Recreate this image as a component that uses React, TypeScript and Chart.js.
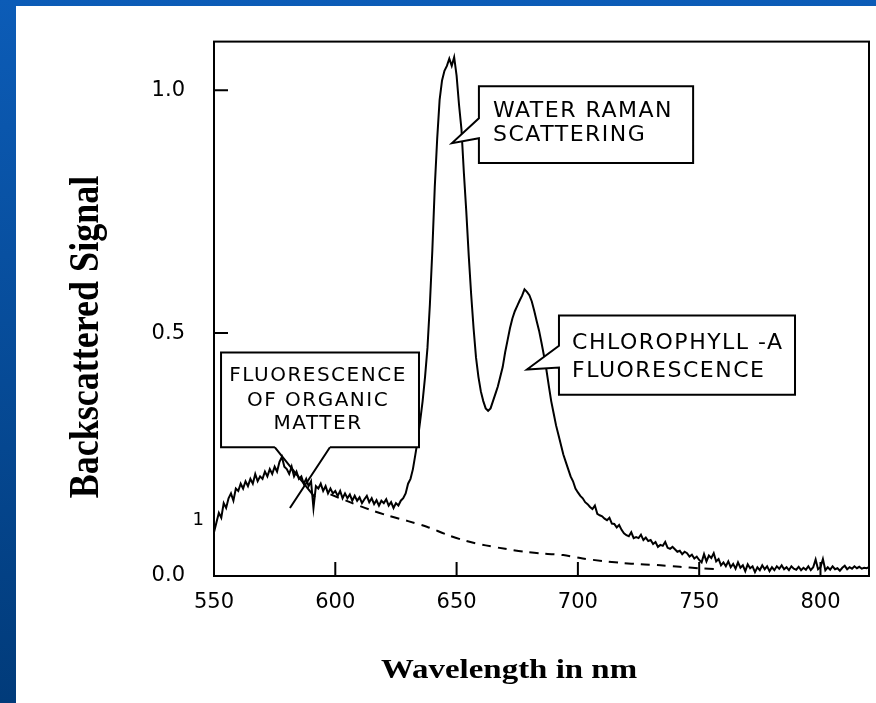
import React, { useEffect, useRef } from "react";
import { Chart, registerables } from "chart.js";

Chart.register(...registerables);

// ---- data ----
const wavelengths = [
  550, 551, 552, 553, 554, 555, 556, 557, 558, 559,
  560, 561, 562, 563, 564, 565, 566, 567, 568, 569,
  570, 571, 572, 573, 574, 575, 576, 577, 578, 579,
  580, 581, 582, 583, 584, 585, 586, 587, 588, 589,
  590, 591, 592, 593, 594, 595, 596, 597, 598, 599,
  600, 601, 602, 603, 604, 605, 606, 607, 608, 609,
  610, 611, 612, 613, 614, 615, 616, 617, 618, 619,
  620, 621, 622, 623, 624, 625, 626, 627, 628, 629,
  630, 631, 632, 633, 634, 635, 636, 637, 638, 639,
  640, 641, 642, 643, 644, 645, 646, 647, 648, 649,
  650, 651, 652, 653, 654, 655, 656, 657, 658, 659,
  660, 661, 662, 663, 664, 665, 666, 667, 668, 669,
  670, 671, 672, 673, 674, 675, 676, 677, 678, 679,
  680, 681, 682, 683, 684, 685, 686, 687, 688, 689,
  690, 691, 692, 693, 694, 695, 696, 697, 698, 699,
  700, 701, 702, 703, 704, 705, 706, 707, 708, 709,
  710, 711, 712, 713, 714, 715, 716, 717, 718, 719,
  720, 721, 722, 723, 724, 725, 726, 727, 728, 729,
  730, 731, 732, 733, 734, 735, 736, 737, 738, 739,
  740, 741, 742, 743, 744, 745, 746, 747, 748, 749,
  750, 751, 752, 753, 754, 755, 756, 757, 758, 759,
  760, 761, 762, 763, 764, 765, 766, 767, 768, 769,
  770, 771, 772, 773, 774, 775, 776, 777, 778, 779,
  780, 781, 782, 783, 784, 785, 786, 787, 788, 789,
  790, 791, 792, 793, 794, 795, 796, 797, 798, 799,
  800, 801, 802, 803, 804, 805, 806, 807, 808, 809,
  810, 811, 812, 813, 814, 815, 816, 817, 818, 819,
  820,
];

const backscatteredSignal = [
  0.09, 0.11, 0.13, 0.12, 0.15, 0.14, 0.16, 0.17, 0.155, 0.18,
  0.175, 0.19, 0.18, 0.195, 0.185, 0.2, 0.19, 0.21, 0.195, 0.205,
  0.2, 0.215, 0.205, 0.22, 0.21, 0.225, 0.215, 0.235, 0.245, 0.225,
  0.22, 0.21, 0.225, 0.205, 0.215, 0.2, 0.205, 0.19, 0.2, 0.185,
  0.195, 0.14, 0.185, 0.18, 0.19, 0.175, 0.185, 0.17, 0.18, 0.17,
  0.175, 0.165, 0.175, 0.16, 0.17, 0.16, 0.168, 0.155, 0.165, 0.155,
  0.162, 0.15, 0.158, 0.165, 0.152, 0.16, 0.148, 0.156, 0.145, 0.155,
  0.15, 0.158, 0.145, 0.152, 0.14, 0.15, 0.145, 0.155, 0.16, 0.17,
  0.19, 0.2, 0.22, 0.25, 0.28, 0.32, 0.36, 0.41, 0.47, 0.56,
  0.67, 0.8, 0.9, 0.98, 1.02, 1.04, 1.05, 1.065, 1.05, 1.068,
  1.03, 0.97, 0.92, 0.83, 0.75, 0.66, 0.58, 0.51, 0.45, 0.41,
  0.38, 0.36, 0.345, 0.34, 0.345, 0.36, 0.375, 0.39, 0.41, 0.43,
  0.46, 0.485, 0.51, 0.53, 0.545, 0.556, 0.567, 0.577, 0.59, 0.585,
  0.578, 0.565, 0.546, 0.525, 0.505, 0.48, 0.454, 0.425, 0.392, 0.36,
  0.335, 0.31, 0.29, 0.27, 0.25, 0.235, 0.22, 0.205, 0.195, 0.18,
  0.172, 0.165, 0.16, 0.152, 0.148, 0.142, 0.138, 0.145, 0.128, 0.125,
  0.123, 0.118, 0.115, 0.12, 0.108, 0.107, 0.1, 0.105, 0.095, 0.088,
  0.084, 0.082, 0.09, 0.078, 0.08, 0.078, 0.085, 0.074, 0.079, 0.072,
  0.074, 0.066, 0.07, 0.06, 0.064, 0.062, 0.07, 0.058, 0.056, 0.06,
  0.055, 0.05, 0.052, 0.045, 0.05, 0.047, 0.04, 0.044, 0.036, 0.04,
  0.033, 0.028, 0.045, 0.03, 0.042, 0.037, 0.047, 0.03, 0.035, 0.022,
  0.028, 0.02, 0.03, 0.018, 0.025, 0.015, 0.028, 0.017, 0.022, 0.01,
  0.024, 0.016, 0.02, 0.008, 0.018, 0.012, 0.022, 0.014, 0.02, 0.01,
  0.018, 0.012, 0.02, 0.015, 0.022, 0.014, 0.018, 0.012, 0.02, 0.015,
  0.013, 0.019, 0.012, 0.017, 0.013, 0.02, 0.012, 0.018, 0.034, 0.014,
  0.018, 0.035, 0.012, 0.018, 0.013, 0.02, 0.014, 0.016, 0.011, 0.017,
  0.021, 0.014, 0.018, 0.015, 0.02, 0.016, 0.019, 0.015, 0.017, 0.016,
  0.018,
];

const organicWavelengths = [598, 606, 614, 622, 630, 638, 646, 654, 662, 670, 678, 686, 694, 702, 710, 718, 726, 734, 742, 750, 758];
const organicSignal = [0.168, 0.152, 0.137, 0.124, 0.113, 0.101, 0.085, 0.072, 0.063, 0.056, 0.05, 0.046, 0.043, 0.036, 0.031, 0.027, 0.024, 0.022, 0.019, 0.016, 0.014];

const xTickValues = [550, 600, 650, 700, 750, 800];
const yTickValues = [0, 0.5, 1.0];

const xTitle = "Wavelength in nm";
const yTitle = "Backscattered Signal";

// callouts, anchored in data units (nm, signal)
const ramanLines = ["WATER RAMAN", "SCATTERING"];
const chlorophyllLines = ["CHLOROPHYLL -A", "FLUORESCENCE"];
const organicLines = ["FLUORESCENCE", "OF ORGANIC", "MATTER"];
const strayLabel = "1";

const decorPlugin = {
  id: "decor",
  afterDatasetsDraw(chart: any) {
    const { ctx, chartArea: a, scales } = chart;
    const xs = scales.x;
    const ys = scales.y;
    const X = (v: number) => xs.getPixelForValue(v);
    const Y = (v: number) => ys.getPixelForValue(v);
    ctx.save();
    ctx.strokeStyle = "#000";
    ctx.fillStyle = "#000";
    ctx.lineWidth = 2;
    // frame
    ctx.strokeRect(a.left, a.top, a.right - a.left, a.bottom - a.top);
    // inner ticks
    ctx.beginPath();
    for (const v of xTickValues) {
      if (v === 550) continue;
      const px = X(v);
      ctx.moveTo(px, a.bottom);
      ctx.lineTo(px, a.bottom - 14);
    }
    for (const v of yTickValues) {
      if (v === 0) continue;
      const py = Y(v);
      ctx.moveTo(a.left, py);
      ctx.lineTo(a.left + 14, py);
    }
    ctx.stroke();

    // callout with pointer from left edge
    const leftCallout = (l: number, r: number, t: number, b: number, gT: number, gB: number, tipX: number, tipY: number) => {
      const L = X(l), R = X(r), T = Y(t), B = Y(b);
      ctx.beginPath();
      ctx.moveTo(L, Y(gT));
      ctx.lineTo(L, T);
      ctx.lineTo(R, T);
      ctx.lineTo(R, B);
      ctx.lineTo(L, B);
      ctx.lineTo(L, Y(gB));
      ctx.lineTo(X(tipX), Y(tipY));
      ctx.closePath();
      ctx.fillStyle = "#fff";
      ctx.fill();
      ctx.stroke();
    };
    const writeLines = (lines: string[], x: number, ysVals: number[], size: number, align: string) => {
      ctx.fillStyle = "#000";
      ctx.font = `${size}px "DejaVu Sans"`;
      (ctx as any).letterSpacing = "1.5px";
      ctx.textAlign = align;
      ctx.textBaseline = "middle";
      lines.forEach((s, i) => ctx.fillText(s, X(x), Y(ysVals[i])));
      (ctx as any).letterSpacing = "0px";
    };

    leftCallout(659.2, 747.5, 1.008, 0.85, 0.942, 0.901, 648.1, 0.891);
    writeLines(ramanLines, 665.0, [0.956, 0.907], 22, "left");

    leftCallout(692.2, 789.5, 0.536, 0.373, 0.474, 0.429, 679.0, 0.425);
    writeLines(chlorophyllLines, 697.6, [0.48, 0.421], 22, "left");

    // organic matter box with gap at bottom and crossing pointer lines
    {
      const L = X(552.9), R = X(634.5), T = Y(0.46), B = Y(0.265);
      ctx.fillStyle = "#fff";
      ctx.fillRect(L, T, R - L, B - T);
      ctx.beginPath();
      ctx.moveTo(X(575.1), B);
      ctx.lineTo(L, B);
      ctx.lineTo(L, T);
      ctx.lineTo(R, T);
      ctx.lineTo(R, B);
      ctx.lineTo(X(597.8), B);
      ctx.moveTo(X(575.1), B);
      ctx.lineTo(X(591.6), Y(0.162));
      ctx.moveTo(X(597.8), B);
      ctx.lineTo(X(581.3), Y(0.14));
      ctx.stroke();
      writeLines(organicLines, 592.9, [0.412, 0.361, 0.314], 20, "center");
    }

    // stray scan mark
    ctx.fillStyle = "#000";
    ctx.font = '18px "DejaVu Sans"';
    ctx.textAlign = "right";
    ctx.textBaseline = "middle";
    ctx.fillText(strayLabel, a.left - 10, Y(0.115));

    // axis titles (stretched serif)
    ctx.fillStyle = "#000";
    ctx.textAlign = "center";
    ctx.textBaseline = "alphabetic";
    ctx.save();
    ctx.translate(509, 678);
    ctx.scale(1.22, 1);
    ctx.font = 'bold 27px "Liberation Serif"';
    ctx.fillText(xTitle, 0, 0);
    ctx.restore();

    ctx.save();
    ctx.translate(98, 337);
    ctx.scale(1.2, 1);
    ctx.rotate(-Math.PI / 2);
    ctx.font = 'bold 36px "Liberation Serif"';
    ctx.fillText(yTitle, 0, 0);
    ctx.restore();

    ctx.restore();
  },
};

export default function App() {
  const ref = useRef<HTMLCanvasElement | null>(null);

  useEffect(() => {
    document.body.style.margin = "0";
    const canvas = ref.current;
    if (!canvas) return;
    const tickFont = { family: "DejaVu Sans", size: 21 };
    const chart = new Chart(canvas, {
      type: "line",
      data: {
        datasets: [
          {
            data: wavelengths.map((w, i) => ({ x: w, y: backscatteredSignal[i] })),
            borderColor: "#000",
            borderWidth: 2,
            pointRadius: 0,
            tension: 0,
            fill: false,
          },
          {
            data: organicWavelengths.map((w, i) => ({ x: w, y: organicSignal[i] })),
            borderColor: "#000",
            borderWidth: 2,
            borderDash: [9, 7],
            pointRadius: 0,
            tension: 0.3,
            fill: false,
          },
        ],
      },
      options: {
        animation: false,
        responsive: false,
        maintainAspectRatio: false,
        layout: { padding: { left: 0, right: 7, top: 40, bottom: 0 } },
        plugins: { legend: { display: false }, tooltip: { enabled: false } },
        scales: {
          x: {
            type: "linear",
            min: 550,
            max: 820,
            afterBuildTicks: (s: any) => {
              s.ticks = xTickValues.map((v) => ({ value: v }));
            },
            afterFit: (s: any) => {
              s.height = 127;
            },
            grid: { display: false, drawTicks: false },
            border: { display: false },
            ticks: {
              padding: 14,
              font: tickFont,
              color: "#000",
              maxRotation: 0,
              autoSkip: false,
              callback: (v: any) => String(v),
            },
          },
          y: {
            type: "linear",
            min: 0,
            max: 1.1,
            afterBuildTicks: (s: any) => {
              s.ticks = yTickValues.map((v) => ({ value: v }));
            },
            afterFit: (s: any) => {
              s.width = 214;
            },
            grid: { display: false, drawTicks: false },
            border: { display: false },
            ticks: {
              padding: 29,
              font: tickFont,
              color: "#000",
              autoSkip: false,
              callback: (v: any) => Number(v).toFixed(1),
            },
          },
        },
      },
      plugins: [decorPlugin],
    } as any);
    return () => chart.destroy();
  }, []);

  return (
    <div
      style={{
        position: "relative",
        width: 876,
        height: 703,
        overflow: "hidden",
        background: "linear-gradient(to bottom, #0c5cb7, #013b7a)",
      }}
    >
      <div style={{ position: "absolute", left: 16, top: 6, right: 0, bottom: 0, background: "#fff" }} />
      <canvas ref={ref} width={876} height={703} style={{ position: "absolute", left: 0, top: 0, display: "block" }} />
    </div>
  );
}
